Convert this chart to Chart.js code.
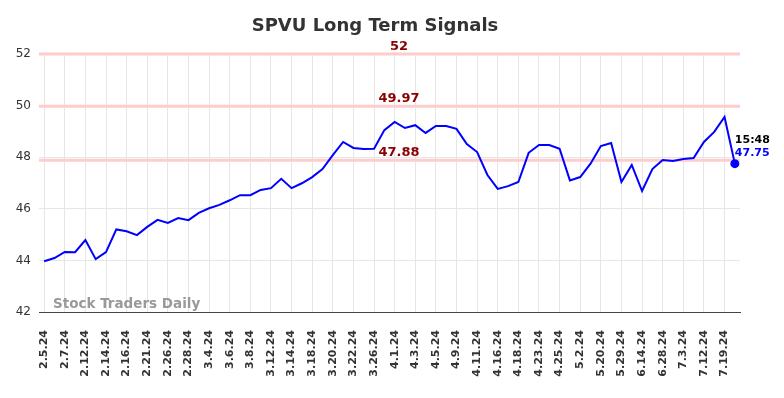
<!DOCTYPE html>
<html>
<head>
<meta charset="utf-8">
<script src="https://cdn.jsdelivr.net/npm/chart.js@4.4.1/dist/chart.umd.min.js"></script>
<style>
  body { margin: 0; background: #fff; }
  #wrap { width: 784px; height: 398px; position: relative; }
</style>
</head>
<body>
<div id="wrap"><canvas id="signals"></canvas></div>
<script>
// tick labels on the x axis (one per two trading days)
const tickLabels = ['2.5.24', '2.7.24', '2.12.24', '2.14.24', '2.16.24', '2.21.24', '2.26.24', '2.28.24',
  '3.4.24', '3.6.24', '3.8.24', '3.12.24', '3.14.24', '3.18.24', '3.20.24', '3.22.24', '3.26.24',
  '4.1.24', '4.3.24', '4.5.24', '4.9.24', '4.11.24', '4.16.24', '4.18.24', '4.23.24', '4.25.24',
  '5.2.24', '5.20.24', '5.29.24', '6.14.24', '6.28.24', '7.3.24', '7.12.24', '7.19.24'];

const prices = [43.97, 44.09, 44.33, 44.32, 44.79, 44.05, 44.32, 45.2, 45.13, 44.98,
  45.3, 45.57, 45.45, 45.64, 45.56, 45.84, 46.02, 46.15, 46.33, 46.53,
  46.53, 46.73, 46.8, 47.16, 46.8, 46.99, 47.23, 47.54, 48.08, 48.59,
  48.36, 48.32, 48.33, 49.05, 49.37, 49.13, 49.24, 48.94, 49.21, 49.21,
  49.1, 48.51, 48.2, 47.31, 46.77, 46.88, 47.04, 48.17, 48.47, 48.47,
  48.33, 47.1, 47.23, 47.75, 48.43, 48.55, 47.04, 47.7, 46.69, 47.54,
  47.89, 47.85, 47.93, 47.97, 48.59, 48.98, 49.56, 47.75];

const signalLevels = [52, 49.97, 47.88];
const yTicks = [42, 44, 46, 48, 50, 52];
const lastTime = '15:48';

// one category per point, only every other one gets a printed date
const categories = prices.map((p, i) => (i % 2 === 0 ? tickLabels[i / 2] : ''));

const overlay = {
  id: 'overlay',
  beforeDatasetsDraw(chart) {
    const { ctx, chartArea, scales } = chart;
    ctx.save();
    ctx.strokeStyle = '#ffcccc';
    ctx.lineWidth = 3;
    signalLevels.forEach(v => {
      const y = scales.y.getPixelForValue(v);
      ctx.beginPath();
      ctx.moveTo(chartArea.left, y);
      ctx.lineTo(chartArea.right, y);
      ctx.stroke();
    });
    ctx.restore();
  },
  afterDatasetsDraw(chart) {
    const { ctx, chartArea, scales } = chart;
    ctx.save();
    // level labels
    ctx.font = 'bold 13px "DejaVu Sans"';
    ctx.fillStyle = '#8b0000';
    ctx.textAlign = 'center';
    ctx.textBaseline = 'bottom';
    signalLevels.forEach(v => {
      const y = scales.y.getPixelForValue(v);
      ctx.fillText(String(v), 399, y - 1);
    });
    // last value
    const last = prices.length - 1;
    const lx = scales.x.getPixelForValue(last);
    const ly = scales.y.getPixelForValue(prices[last]);
    ctx.textAlign = 'left';
    ctx.textBaseline = 'middle';
    ctx.font = 'bold 11px "DejaVu Sans"';
    ctx.fillStyle = '#000';
    ctx.fillText(lastTime, lx, ly - 24);
    ctx.fillStyle = '#0000ff';
    ctx.fillText(prices[last].toFixed(2), lx, ly - 11);
    // watermark
    ctx.font = 'bold 13.5px "DejaVu Sans"';
    ctx.fillStyle = '#999';
    ctx.textBaseline = 'alphabetic';
    ctx.fillText('Stock Traders Daily', 53, chartArea.bottom - 4);
    // title
    ctx.font = 'bold 18px "DejaVu Sans"';
    ctx.fillStyle = '#333';
    ctx.textAlign = 'center';
    ctx.textBaseline = 'middle';
    ctx.fillText('SPVU Long Term Signals', 375, 26);
    ctx.restore();
  }
};

new Chart(document.getElementById('signals'), {
  type: 'line',
  data: {
    labels: categories,
    datasets: [{
      data: prices,
      borderColor: '#0000ff',
      backgroundColor: '#0000ff',
      borderWidth: 2,
      tension: 0,
      pointRadius: ctx => (ctx.dataIndex === prices.length - 1 ? 3.5 : 0),
      pointHoverRadius: 0
    }]
  },
  options: {
    responsive: true,
    maintainAspectRatio: false,
    animation: false,
    layout: { padding: { left: 0, right: 44, top: 54, bottom: 0 } },
    plugins: { legend: { display: false }, tooltip: { enabled: false }, title: { display: false } },
    scales: {
      x: {
        offset: true,
        grid: {
          offset: false,
          drawTicks: false,
          color: ctx => (ctx.index % 2 === 0 ? '#e6e6e6' : 'rgba(0,0,0,0)')
        },
        border: { color: '#444', width: 1 },
        ticks: {
          autoSkip: false,
          maxRotation: 90,
          minRotation: 90,
          padding: 18,
          color: '#333',
          font: { family: 'DejaVu Sans', size: 11, weight: 'bold' }
        },
        afterFit: s => { s.height = 86; }
      },
      y: {
        min: 42,
        max: 52,
        afterBuildTicks: s => { s.ticks = yTicks.map(v => ({ value: v })); },
        grid: { color: '#e6e6e6', drawTicks: false },
        border: { display: false },
        ticks: {
          padding: 8,
          color: '#333',
          font: { family: 'DejaVu Sans', size: 12 }
        },
        afterFit: s => { s.width = 39; }
      }
    }
  },
  plugins: [overlay]
});
</script>
</body>
</html>
